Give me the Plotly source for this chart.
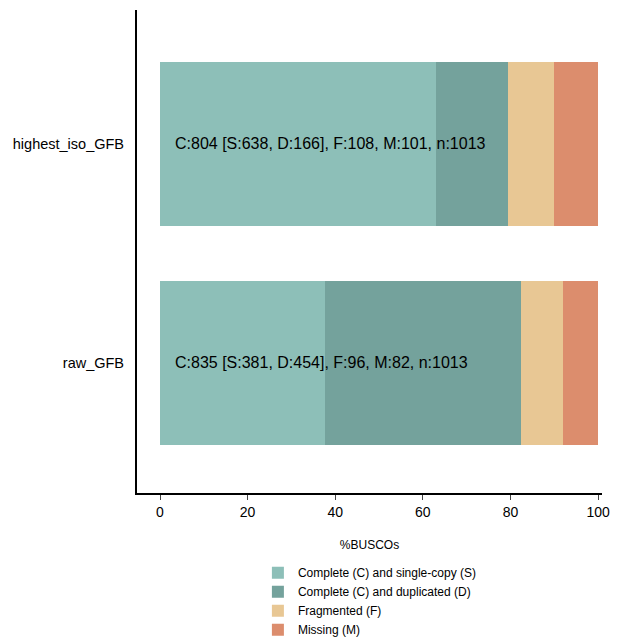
import plotly.graph_objects as go

samples = ["raw_GFB", "highest_iso_GFB"]
n_total = 1013
single = [381, 638]
dup = [454, 166]
frag = [96, 108]
miss = [82, 101]

series = [
    ("Complete (C) and single-copy (S)", single, "#8dbfb8"),
    ("Complete (C) and duplicated (D)", dup, "#74a29c"),
    ("Fragmented (F)", frag, "#e8c794"),
    ("Missing (M)", miss, "#dc8d6d"),
]

fig = go.Figure()
for name, vals, col in series:
    fig.add_trace(go.Bar(
        y=samples, x=[v / n_total * 100 for v in vals], name=name,
        orientation="h", marker=dict(color=col, line=dict(width=0)), width=0.75,
    ))

for i, s in enumerate(samples):
    c = single[i] + dup[i]
    txt = f"C:{c} [S:{single[i]}, D:{dup[i]}], F:{frag[i]}, M:{miss[i]}, n:{n_total}"
    fig.add_annotation(x=3, y=s, text=txt, showarrow=False, xanchor="left",
                       font=dict(size=16, color="black"))

fig.update_layout(
    barmode="stack", width=606, height=630, plot_bgcolor="white", paper_bgcolor="white",
    margin=dict(l=129, r=12, t=2, b=145, autoexpand=False),
    font=dict(family="Liberation Sans, Arial", size=13, color="black"),
    legend=dict(orientation="v", x=0.26, xanchor="left", y=-0.135, yanchor="top",
                traceorder="normal", font=dict(size=12)),
    xaxis=dict(range=[-5.25, 100.9], showline=True, linecolor="black", linewidth=2,
               ticks="outside", tickvals=[0, 20, 40, 60, 80, 100], showgrid=False,
               zeroline=False, automargin=False,
               title=dict(text="%BUSCOs", font=dict(size=12), standoff=22),
               tickfont=dict(size=14)),
    yaxis=dict(range=[-0.594, 1.61], showline=True, linecolor="black", linewidth=2,
               showgrid=False, ticks="", tickfont=dict(size=14.5), ticksuffix="  ",
               automargin=False),
)
fig.write_html("out.html")
